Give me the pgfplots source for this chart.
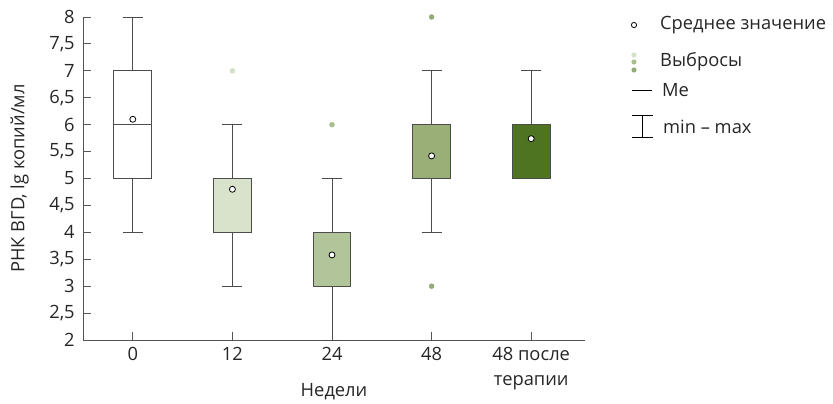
\documentclass[border=0pt]{standalone}
\usepackage{fontspec}
\setmainfont{Open Sans}
\usepackage{pgfplots}
\pgfplotsset{compat=1.18}
\usepgfplotslibrary{statistics}
\usetikzlibrary{calc}
\definecolor{cA}{HTML}{FFFFFF}
\definecolor{cB}{HTML}{D9E3CC}
\definecolor{cC}{HTML}{B2C49A}
\definecolor{cD}{HTML}{9AAF78}
\definecolor{cE}{HTML}{4E7421}
\definecolor{oB}{HTML}{D5E0C8}
\definecolor{oC}{HTML}{A9BE8D}
\definecolor{oD}{HTML}{93AB74}
\definecolor{axc}{HTML}{555555}
\begin{document}
\fontsize{18.3bp}{24bp}\selectfont
\begin{tikzpicture}
\begin{axis}[
  scale only axis, width=502bp, height=323bp,
  xmin=-0.5, xmax=4.54, ymin=2, ymax=8,
  axis lines*=left, axis line style={axc, line width=0.9pt},
  clip=false,
  xtick={0,1,2,3,4},
  xticklabels={0,12,24,48,{48 после\\терапии}},
  xticklabel style={align=center, text=black!85, font=\fontsize{18.3bp}{25bp}\selectfont, yshift=-1bp},
  ytick={2,2.5,...,8},
  yticklabel style={text=black!85, xshift=-2bp},
  tick style={axc, line width=0.9pt},
  tick align=inside, major tick length=8bp,
  /pgf/number format/assume math mode=true,
  /pgf/number format/use comma,
  ylabel={РНК ВГD, lg копий/мл},
  xlabel={Недели},
  ylabel style={at={(axis description cs:0,0.5)}, anchor=south, yshift=48bp, text=black!85},
  xlabel style={at={(axis description cs:0.5,0)}, anchor=north, yshift=-37bp, text=black!85},
  boxplot/draw direction=y,
  boxplot/box extend=0.38,
  boxplot/whisker extend=0.2,
  boxplot/every median/.style={line width=1pt},
]
% outliers
\addplot[only marks, mark=*, mark size=2.5bp, color=oB, mark options={draw=oB, fill=oB}] coordinates {(1,7)};
\addplot[only marks, mark=*, mark size=2.5bp, color=oC, mark options={draw=oC, fill=oC}] coordinates {(2,6)};
\addplot[only marks, mark=*, mark size=2.5bp, color=oD, mark options={draw=oD, fill=oD}] coordinates {(3,8) (3,3)};
% boxes
\addplot[boxplot prepared={draw position=0, lower whisker=4, lower quartile=5, median=6, upper quartile=7, upper whisker=8},
  draw=black!70, line width=0.9pt, fill=cA] coordinates {};
\addplot[boxplot prepared={draw position=1, lower whisker=3, lower quartile=4, median=5, upper quartile=5, upper whisker=6},
  draw=black!70, line width=0.9pt, fill=cB] coordinates {};
\addplot[boxplot prepared={draw position=2, lower whisker=2, lower quartile=3, median=3, upper quartile=4, upper whisker=5},
  draw=black!70, line width=0.9pt, fill=cC] coordinates {};
\addplot[boxplot prepared={draw position=3, lower whisker=4, lower quartile=5, median=5, upper quartile=6, upper whisker=7},
  draw=black!70, line width=0.9pt, fill=cD] coordinates {};
\addplot[boxplot prepared={draw position=4, lower whisker=5, lower quartile=5, median=5, upper quartile=6, upper whisker=7},
  draw=black!70, line width=0.9pt, fill=cE] coordinates {};
% means
\addplot[only marks, mark=*, mark size=3bp, color=black, mark options={draw=black, fill=white, line width=0.8pt}]
  coordinates {(0,6.1) (1,4.8) (2,3.58) (3,5.42) (4,5.74)};
\coordinate (ll) at (rel axis cs:0,0);
\end{axis}
% legend
\begin{scope}[shift={(ll)}, x=1bp, y=1bp]
  \draw[black, line width=0.8pt, fill=white] (551,315) circle (2.6);
  \node[anchor=west, text=black!85, inner sep=0pt] at (577,315) {Среднее значение};
  \fill[oB] (551,285) circle (2.6);
  \fill[oC] (551,278) circle (2.6);
  \fill[oD] (551,270) circle (2.6);
  \node[anchor=west, text=black!85, inner sep=0pt] at (577,278) {Выбросы};
  \draw[black, line width=0.8pt] (549,250) -- (569,250);
  \node[anchor=west, text=black!85, inner sep=0pt] at (579,250) {Me};
  \draw[black, line width=0.8pt] (549,225) -- (570,225) (559.5,225) -- (559.5,203) (549,203) -- (570,203);
  \node[anchor=west, text=black!85, inner sep=0pt] at (580,213) {min – max};
\end{scope}
\pgfresetboundingbox
\path[use as bounding box] ($(ll)+(-83bp,-64bp)$) rectangle ($(ll)+(750bp,340bp)$);
\end{tikzpicture}
\end{document}
